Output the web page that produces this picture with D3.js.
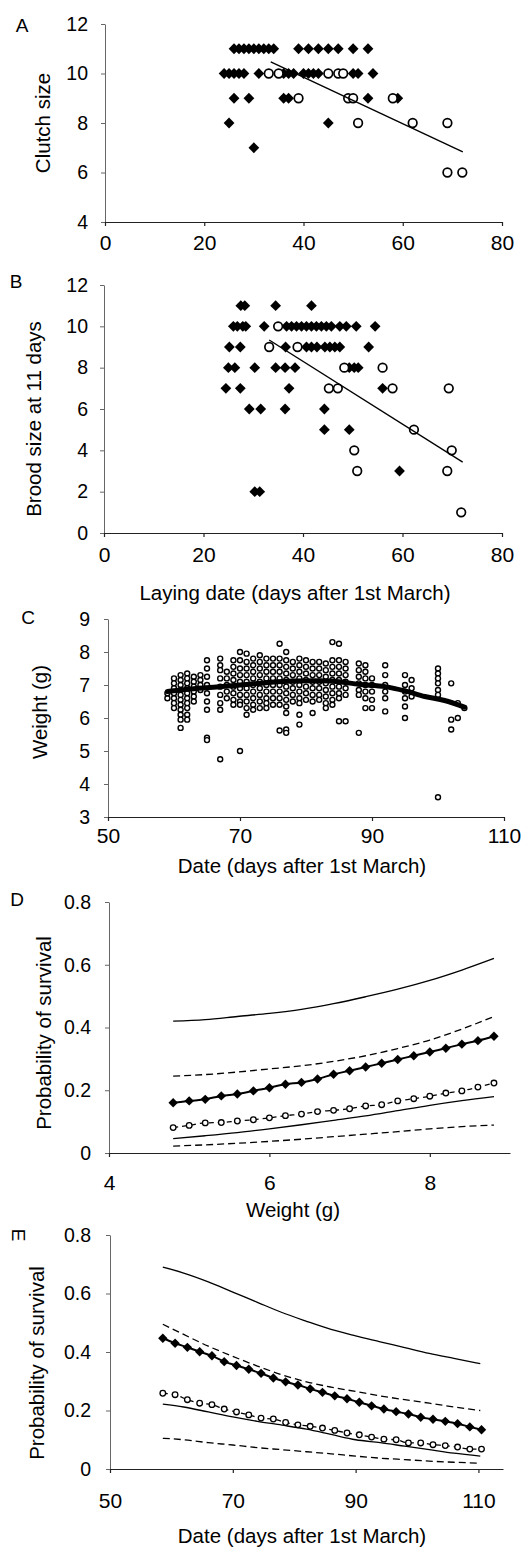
<!DOCTYPE html>
<html>
<head>
<meta charset="utf-8">
<script src="https://cdn.jsdelivr.net/npm/d3@7"></script>
<style>
  body { margin: 0; background: #fff; }
  text { font-family: "Liberation Sans", Arial, sans-serif; fill: #000; }
</style>
</head>
<body>
<svg id="chart" width="526" height="1549"></svg>
<script>
// ---- panel A: clutch size vs laying date ----
const clutchEarly = [
  [26,11],[27,11],[28,11],[29,11],[30,11],[31,11],[32,11],[33,11],[34,11],
  [39,11],[41,11],[43,11],[45,11],[47,11],[50,11],[53,11],
  [24,10],[25,10],[26,10],[27,10],[28,10],[31,10],[36,10],[37,10],[38,10],
  [40,10],[41,10],[42,10],[43,10],[50,10],[51,10],[54,10],
  [26,9],[29,9],[36,9],[37,9],[53,9],[59,9],
  [25,8],[45,8],[30,7]
];
const clutchLate = [
  [33,10],[35,10],[45,10],[47,10],[48,10],
  [39,9],[49,9],[50,9],[58,9],
  [51,8],[62,8],[69,8],[69,6],[72,6]
];
const clutchFit = [[33.4,10.47],[72.1,6.83]];

// ---- panel B: brood size at 11 days vs laying date ----
const broodEarly = [
  [27.5,11],[28.3,11],[34.5,11],[41.7,11],
  [26,10],[26.8,10],[27.9,10],[28.5,10],[32.2,10],[36.7,10],[37.7,10],[38.7,10],
  [39.7,10],[40.7,10],[41.7,10],[42.7,10],[43.7,10],[44.7,10],[45.7,10],[47.4,10],
  [48.7,10],[50.7,10],[54.5,10],
  [25.2,9],[27.4,9],[36.5,9],[40.7,9],[41.7,9],[42.8,9],[44.4,9],[45.4,9],[46.4,9],
  [47.4,9],[53.2,9],
  [25,8],[26.3,8],[30.3,8],[34.5,8],[36.4,8],[38.4,8],[49.3,8],[50.3,8],[51.1,8],
  [24.5,7],[27.4,7],[37.2,7],[56,7],
  [29.2,6],[31.5,6],[36.4,6],[44.3,6],
  [44.3,5],[49.3,5],[59.4,3],[30.3,2],[31.3,2]
];
const broodLate = [
  [35,10],[33.2,9],[38.9,9],[48.3,8],[56,8],
  [45.2,7],[47,7],[58,7],[69.3,7],[62.3,5],
  [50.3,4],[69.9,4],[50.9,3],[69,3],[71.8,1]
];
const broodFit = [[33.2,9.34],[72.1,3.43]];

// ---- panel C: chick weight vs date ----
const weightDays = [59,60,61,62,63,64,65,67,68,69,70,71,72,73,74,75,76,77,78,79,80,
  81,82,83,84,85,86,88,89,90,92,95,96,100,102,103,104];
const weightByDay = [
  [6.6,6.75],
  [7.2,7.05,6.9,6.75,6.6,6.45,6.3],
  [7.3,7.15,7.0,6.85,6.7,6.55,6.4,6.25,6.1,5.95,5.7],
  [7.35,7.2,7.05,6.9,6.75,6.6,6.45,6.3,6.1,5.95],
  [7.25,7.1,6.95,6.8,6.65,6.5],
  [7.3,7.15,7.0,6.85],
  [7.75,7.5,7.25,7.0,6.75,6.5,6.25,5.4,5.33],
  [7.8,7.6,7.45,7.2,6.95,6.7,6.45,6.25,4.75],
  [7.4,7.2,7.0,6.8,6.6],
  [7.75,7.55,7.35,7.15,6.95,6.75,6.55,6.4],
  [8.0,7.75,7.5,7.3,7.1,6.9,6.7,6.5,6.4,5.0],
  [7.95,7.7,7.5,7.3,7.1,6.9,6.7,6.5,6.3,6.1],
  [7.8,7.6,7.4,7.2,7.0,6.8,6.6,6.4,6.25],
  [7.9,7.7,7.5,7.3,7.1,6.9,6.7,6.5,6.3],
  [7.8,7.6,7.4,7.2,7.0,6.8,6.6,6.45,6.3],
  [7.8,7.6,7.4,7.2,7.0,6.8,6.6,6.4],
  [8.25,7.8,7.6,7.4,7.2,7.0,6.8,6.6,6.4,5.62],
  [8.0,7.75,7.55,7.35,7.15,6.95,6.75,6.55,6.35,6.15,5.65,5.55],
  [7.7,7.5,7.3,7.1,6.9,6.7,6.5],
  [7.8,7.6,7.4,7.2,7.0,6.8,6.6,6.45,6.1,5.8],
  [7.75,7.55,7.35,7.15,6.95,6.75,6.55],
  [7.7,7.5,7.3,7.1,6.9,6.7,6.5,6.15],
  [7.7,7.5,7.3,7.1,6.9,6.7,6.55],
  [7.65,7.45,7.25,7.05,6.85,6.65,6.45,6.3],
  [8.3,7.75,7.55,7.35,7.15,6.95,6.75,6.55,6.4],
  [8.25,7.75,7.55,7.35,7.15,6.95,6.75,6.6,5.9],
  [7.7,7.5,7.3,7.1,6.9,6.7,5.9],
  [7.65,7.45,7.25,7.05,6.85,6.7,5.55],
  [7.6,7.4,7.2,7.0,6.8,6.6,6.3],
  [7.2,7.0,6.8,6.55,6.3],
  [7.6,7.3,7.0,6.8,6.6,6.2],
  [7.3,7.0,6.8,6.6,6.35,6.0],
  [7.15,6.9,6.65],
  [7.5,7.35,7.2,7.05,6.85,6.7,3.6],
  [7.05,5.95,5.65],
  [6.45,6.0],
  [6.3]
];
const trendDays = [59,62,66,70,74,78,82,85,88,92,95,98,101,104];
const trendWeight = [6.8,6.87,6.93,7.0,7.07,7.12,7.13,7.1,7.02,6.95,6.82,6.65,6.53,6.33];

// ---- panel D: survival vs weight ----
const weightPts = [4.8,5.0,5.2,5.4,5.6,5.8,6.0,6.2,6.4,6.6,6.8,7.0,7.2,7.4,7.6,7.8,8.0,8.2,8.4,8.6,8.8];
const survWEarly = [0.160,0.166,0.171,0.182,0.188,0.198,0.208,0.219,0.225,0.236,0.251,0.262,0.274,0.286,0.298,0.310,0.322,0.334,0.347,0.358,0.372];
const survWLate = [0.081,0.088,0.096,0.097,0.102,0.106,0.112,0.119,0.124,0.132,0.136,0.141,0.150,0.154,0.166,0.173,0.181,0.191,0.198,0.210,0.223];
const weightCI = [4.8,5.2,5.6,6.0,6.4,6.8,7.2,7.6,8.0,8.4,8.8];
const survWEarlyHi = [0.42,0.425,0.435,0.445,0.458,0.476,0.498,0.522,0.55,0.583,0.62];
const survWEarlyLo = [0.046,0.055,0.065,0.077,0.09,0.104,0.118,0.135,0.152,0.167,0.18];
const survWLateHi = [0.245,0.25,0.258,0.268,0.278,0.292,0.31,0.333,0.36,0.395,0.435];
const survWLateLo = [0.022,0.026,0.031,0.037,0.044,0.052,0.06,0.068,0.077,0.084,0.089];

// ---- panel E: survival vs date ----
const datePts = [58.6,60.6,62.6,64.6,66.6,68.6,70.6,72.6,74.6,76.6,78.6,80.6,82.6,84.6,
  86.6,88.6,90.6,92.6,94.6,96.6,98.6,100.6,102.6,104.6,106.6,108.6,110.5];
const survDEarly = [0.447,0.43,0.416,0.401,0.387,0.367,0.354,0.341,0.327,0.311,0.298,0.287,0.274,
  0.262,0.25,0.24,0.228,0.216,0.205,0.196,0.188,0.177,0.17,0.163,0.155,0.144,0.134];
const survDLate = [0.259,0.254,0.237,0.225,0.22,0.205,0.195,0.185,0.174,0.171,0.159,0.151,0.146,
  0.14,0.132,0.123,0.117,0.109,0.102,0.1,0.089,0.089,0.083,0.08,0.075,0.068,0.068];
const dateCI = [58.6,62,66,70,74,78,82,86,90,94,98,102,106,110.3];
const survDEarlyHi = [0.69,0.67,0.64,0.605,0.57,0.535,0.505,0.477,0.455,0.435,0.415,0.395,0.378,0.36];
const survDEarlyLo = [0.222,0.212,0.195,0.178,0.163,0.15,0.136,0.118,0.1,0.09,0.078,0.066,0.054,0.044];
const survDLateHi = [0.495,0.46,0.42,0.385,0.352,0.322,0.298,0.28,0.265,0.25,0.237,0.225,0.212,0.2];
const survDLateLo = [0.105,0.1,0.09,0.082,0.073,0.066,0.059,0.052,0.044,0.037,0.032,0.027,0.023,0.02];

const svg = d3.select('#chart');
const FONT = '"Liberation Sans", Arial, sans-serif';

// builds one panel: scales, axes, labels; returns scales + group
function panel(o) {
  const x = d3.scaleLinear().domain(o.xDomain).range([o.left, o.right]);
  const y = d3.scaleLinear().domain(o.yDomain).range([o.bottom, o.top]);
  const g = svg.append('g');

  const ya = g.append('g')
    .attr('transform', `translate(${o.left},0)`)
    .call(d3.axisLeft(y).tickValues(o.yTicks).tickSize(4).tickSizeOuter(0)
      .tickPadding(o.yPad).tickFormat(d => d));
  ya.attr('font-size', 19.5).attr('font-family', FONT);
  ya.selectAll('path,line').attr('stroke', '#666').attr('stroke-width', 1);

  const xa = g.append('g')
    .attr('transform', `translate(0,${o.bottom})`)
    .call(d3.axisBottom(x).tickValues(o.xTicks).tickSize(4).tickSizeOuter(0)
      .tickPadding(o.xPad).tickFormat(d => d));
  xa.attr('font-size', 21).attr('font-family', FONT);
  xa.selectAll('path,line').attr('stroke', '#222').attr('stroke-width', 1.2);
  xa.selectAll('text').attr('fill', '#000');
  ya.selectAll('text').attr('fill', '#000');

  // panel letter
  const lt = g.append('text')
    .attr('text-anchor', 'middle').attr('dy', '0.35em')
    .attr('font-size', 19).text(o.letter);
  if (o.letterRot) lt.attr('transform', `translate(${o.lx},${o.ly}) rotate(90)`);
  else lt.attr('x', o.lx).attr('y', o.ly);

  // y title
  g.append('text')
    .attr('transform', `translate(${o.ytx},${o.yty}) rotate(-90)`)
    .attr('text-anchor', 'middle').attr('dy', '0.35em')
    .attr('font-size', 20.5).text(o.yTitle);

  if (o.xTitle) {
    g.append('text')
      .attr('x', o.xtx).attr('y', o.xty)
      .attr('text-anchor', 'middle')
      .attr('font-size', 20.5).text(o.xTitle);
  }
  return {x, y, g};
}

const diamond = s => d3.symbol(d3.symbolSquare, s);

function drawDiamonds(p, data, size) {
  p.g.append('g').selectAll('path').data(data).join('path')
    .attr('d', diamond(size))
    .attr('transform', d => `translate(${p.x(d[0])},${p.y(d[1])}) rotate(45)`)
    .attr('fill', '#000');
}
function drawCircles(p, data, r, sw) {
  p.g.append('g').selectAll('circle').data(data).join('circle')
    .attr('cx', d => p.x(d[0])).attr('cy', d => p.y(d[1]))
    .attr('r', r).attr('fill', '#fff').attr('stroke', '#000').attr('stroke-width', sw);
}
function drawLine(p, xs, ys, opts) {
  const line = d3.line().x(d => p.x(d[0])).y(d => p.y(d[1])).curve(d3.curveMonotoneX);
  p.g.append('path')
    .attr('d', line(xs.map((v, i) => [v, ys[i]])))
    .attr('fill', 'none').attr('stroke', '#000')
    .attr('stroke-width', opts.w || 1.3)
    .attr('stroke-dasharray', opts.dash || null)
    .attr('stroke-linecap', opts.cap || 'butt');
}

// ---- A ----
const pA = panel({
  xDomain: [0, 80], yDomain: [4, 12], left: 105, right: 502, top: 24, bottom: 222,
  xTicks: [0, 20, 40, 60, 80], yTicks: [4, 6, 8, 10, 12], xPad: 9, yPad: 13,
  letter: 'A', lx: 22, ly: 25, yTitle: 'Clutch size', ytx: 43, yty: 123
});
drawDiamonds(pA, clutchEarly, 58);
drawCircles(pA, clutchLate, 4.3, 1.7);
drawLine(pA, clutchFit.map(d => d[0]), clutchFit.map(d => d[1]), {w: 1.4});

// ---- B ----
const pB = panel({
  xDomain: [0, 80], yDomain: [0, 12], left: 104, right: 502, top: 285, bottom: 533,
  xTicks: [0, 20, 40, 60, 80], yTicks: [0, 2, 4, 6, 8, 10, 12], xPad: 10, yPad: 12,
  letter: 'B', lx: 16, ly: 281, yTitle: 'Brood size at 11 days', ytx: 34, yty: 419,
  xTitle: 'Laying date (days after 1st March)', xtx: 295, xty: 600
});
drawDiamonds(pB, broodEarly, 58);
drawCircles(pB, broodLate, 4.3, 1.7);
drawLine(pB, broodFit.map(d => d[0]), broodFit.map(d => d[1]), {w: 1.4});

// ---- C ----
const pC = panel({
  xDomain: [50, 110], yDomain: [3, 9], left: 108, right: 504, top: 619, bottom: 817,
  xTicks: [50, 70, 90, 110], yTicks: [3, 4, 5, 6, 7, 8, 9], xPad: 7, yPad: 14,
  letter: 'C', lx: 28, ly: 617, yTitle: 'Weight (g)', ytx: 40, yty: 712,
  xTitle: 'Date (days after 1st March)', xtx: 302, xty: 873
});
const weightPtsC = weightDays.flatMap((d, i) => weightByDay[i].map(w => [d, w]));
drawCircles(pC, weightPtsC, 2.5, 1.4);
drawLine(pC, trendDays, trendWeight, {w: 5, cap: 'round'});

// ---- D ----
const pD = panel({
  xDomain: [4, 9], yDomain: [0, 0.8], left: 109, right: 510, top: 902, bottom: 1153,
  xTicks: [4, 6, 8], yTicks: [0, 0.2, 0.4, 0.6, 0.8], xPad: 18, yPad: 14,
  letter: 'D', lx: 17, ly: 899, yTitle: 'Probability of survival', ytx: 44, yty: 1033,
  xTitle: 'Weight (g)', xtx: 293, xty: 1217
});
drawLine(pD, weightCI, survWEarlyHi, {});
drawLine(pD, weightCI, survWEarlyLo, {});
drawLine(pD, weightCI, survWLateHi, {dash: '7,4'});
drawLine(pD, weightCI, survWLateLo, {dash: '7,4'});
drawLine(pD, weightPts, survWEarly, {w: 2});
drawLine(pD, weightPts, survWLate, {dash: '5,4'});
drawDiamonds(pD, weightPts.map((v, i) => [v, survWEarly[i]]), 44);
drawCircles(pD, weightPts.map((v, i) => [v, survWLate[i]]), 2.8, 1.3);

// ---- E ----
const pE = panel({
  xDomain: [50, 114], yDomain: [0, 0.8], left: 110, right: 503, top: 1235, bottom: 1469,
  xTicks: [50, 70, 90, 110], yTicks: [0, 0.2, 0.4, 0.6, 0.8], xPad: 20, yPad: 15,
  letter: 'E', letterRot: true, lx: 19, ly: 1235, yTitle: 'Probability of survival', ytx: 37, yty: 1363,
  xTitle: 'Date (days after 1st March)', xtx: 302, xty: 1543
});
drawLine(pE, dateCI, survDEarlyHi, {});
drawLine(pE, dateCI, survDEarlyLo, {});
drawLine(pE, dateCI, survDLateHi, {dash: '7,4'});
drawLine(pE, dateCI, survDLateLo, {dash: '7,4'});
drawLine(pE, datePts, survDEarly, {w: 2});
drawLine(pE, datePts, survDLate, {dash: '5,4'});
drawDiamonds(pE, datePts.map((v, i) => [v, survDEarly[i]]), 44);
drawCircles(pE, datePts.map((v, i) => [v, survDLate[i]]), 2.8, 1.3);
</script>
</body>
</html>
